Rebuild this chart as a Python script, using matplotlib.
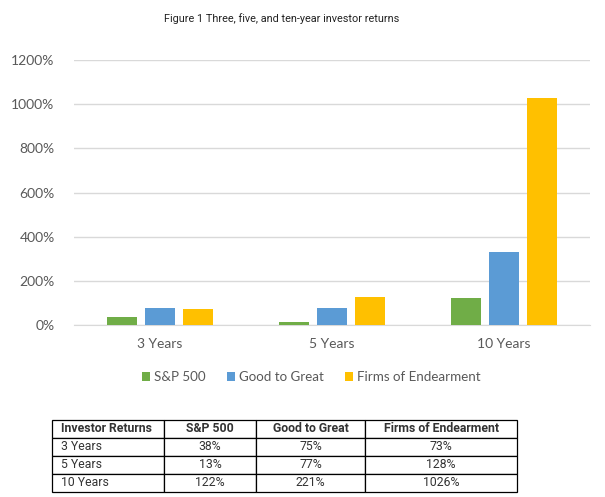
import matplotlib
matplotlib.use("Agg")
import matplotlib.pyplot as plt
import numpy as np

categories = ["3 Years", "5 Years", "10 Years"]
series_names = ["S&P 500", "Good to Great", "Firms of Endearment"]
sp500 = [38, 13, 122]
good_to_great = [75, 77, 330]
firms = [73, 128, 1026]
yticks = [0, 200, 400, 600, 800, 1000, 1200]

table_header = ["Investor Returns", "S&P 500", "Good to Great", "Firms of Endearment"]
table_rows = [
    ["3 Years", "38%", "75%", "73%"],
    ["5 Years", "13%", "77%", "128%"],
    ["10 Years", "122%", "221%", "1026%"],
]

colors = ["#70AD47", "#5B9BD5", "#FFC000"]
W, H = 605, 497
fig = plt.figure(figsize=(W / 100, H / 100), dpi=100)
fig.patch.set_facecolor("white")

ax = fig.add_axes([74 / W, 1 - 325 / H, 516 / W, 265 / H])
x = np.arange(len(categories))
bw = 0.174
off = 0.221
for i, (vals, c, name) in enumerate(zip([sp500, good_to_great, firms], colors, series_names)):
    ax.bar(x + (i - 1) * off, vals, width=bw, color=c, label=name, zorder=3)
ax.set_xlim(-0.5, 2.5)
ax.set_ylim(0, 1200)
ax.set_yticks(yticks)
ax.set_yticklabels([f"{v}%" for v in yticks])
ax.set_xticks(x)
ax.set_xticklabels(categories)
ax.grid(axis="y", color="#D9D9D9", linewidth=1, zorder=0)
for s in ["top", "right", "left"]:
    ax.spines[s].set_visible(False)
ax.spines["bottom"].set_color("#D9D9D9")
ax.tick_params(axis="both", length=0, colors="#595959", labelsize=10)
ax.tick_params(axis="y", pad=14)
ax.tick_params(axis="x", pad=9)
for lab in ax.get_xticklabels() + ax.get_yticklabels():
    lab.set_fontfamily("Lato")

fig.text(282 / W, 1 - 19 / H, "Figure 1 Three, five, and ten-year investor returns",
         ha="center", va="center", fontsize=7.8, family="Roboto", color="#222222")

handles, labels = ax.get_legend_handles_labels()
leg = fig.legend(handles, labels, loc="center", bbox_to_anchor=(311 / W, 1 - 377 / H), ncol=3,
                 frameon=False, prop={"family": "Lato", "size": 9.6}, handlelength=0.6,
                 handleheight=0.6, handletextpad=0.3, columnspacing=1.6)
for t in leg.get_texts():
    t.set_color("#595959")

# table
tax = fig.add_axes([52 / W, 1 - 492 / H, 465 / W, 72 / H])
tax.axis("off")
colw = np.array([112, 92, 109, 152], dtype=float)
colw = colw / colw.sum()
tbl = tax.table(cellText=table_rows, colLabels=table_header, colWidths=list(colw),
                bbox=[0, 0, 1, 1], cellLoc="center")
tbl.auto_set_font_size(False)
for (r, c), cell in tbl.get_celld().items():
    cell.set_edgecolor("black")
    cell.set_linewidth(0.9)
    txt = cell.get_text()
    txt.set_fontfamily("Roboto")
    txt.set_fontsize(8.8)
    txt.set_color("#333333")
    if r == 0:
        txt.set_fontweight("bold")
    if c == 0:
        cell._loc = "left"
        cell.PAD = 0.08
        txt.set_horizontalalignment("left")

fig.savefig("out.png", dpi=100)
